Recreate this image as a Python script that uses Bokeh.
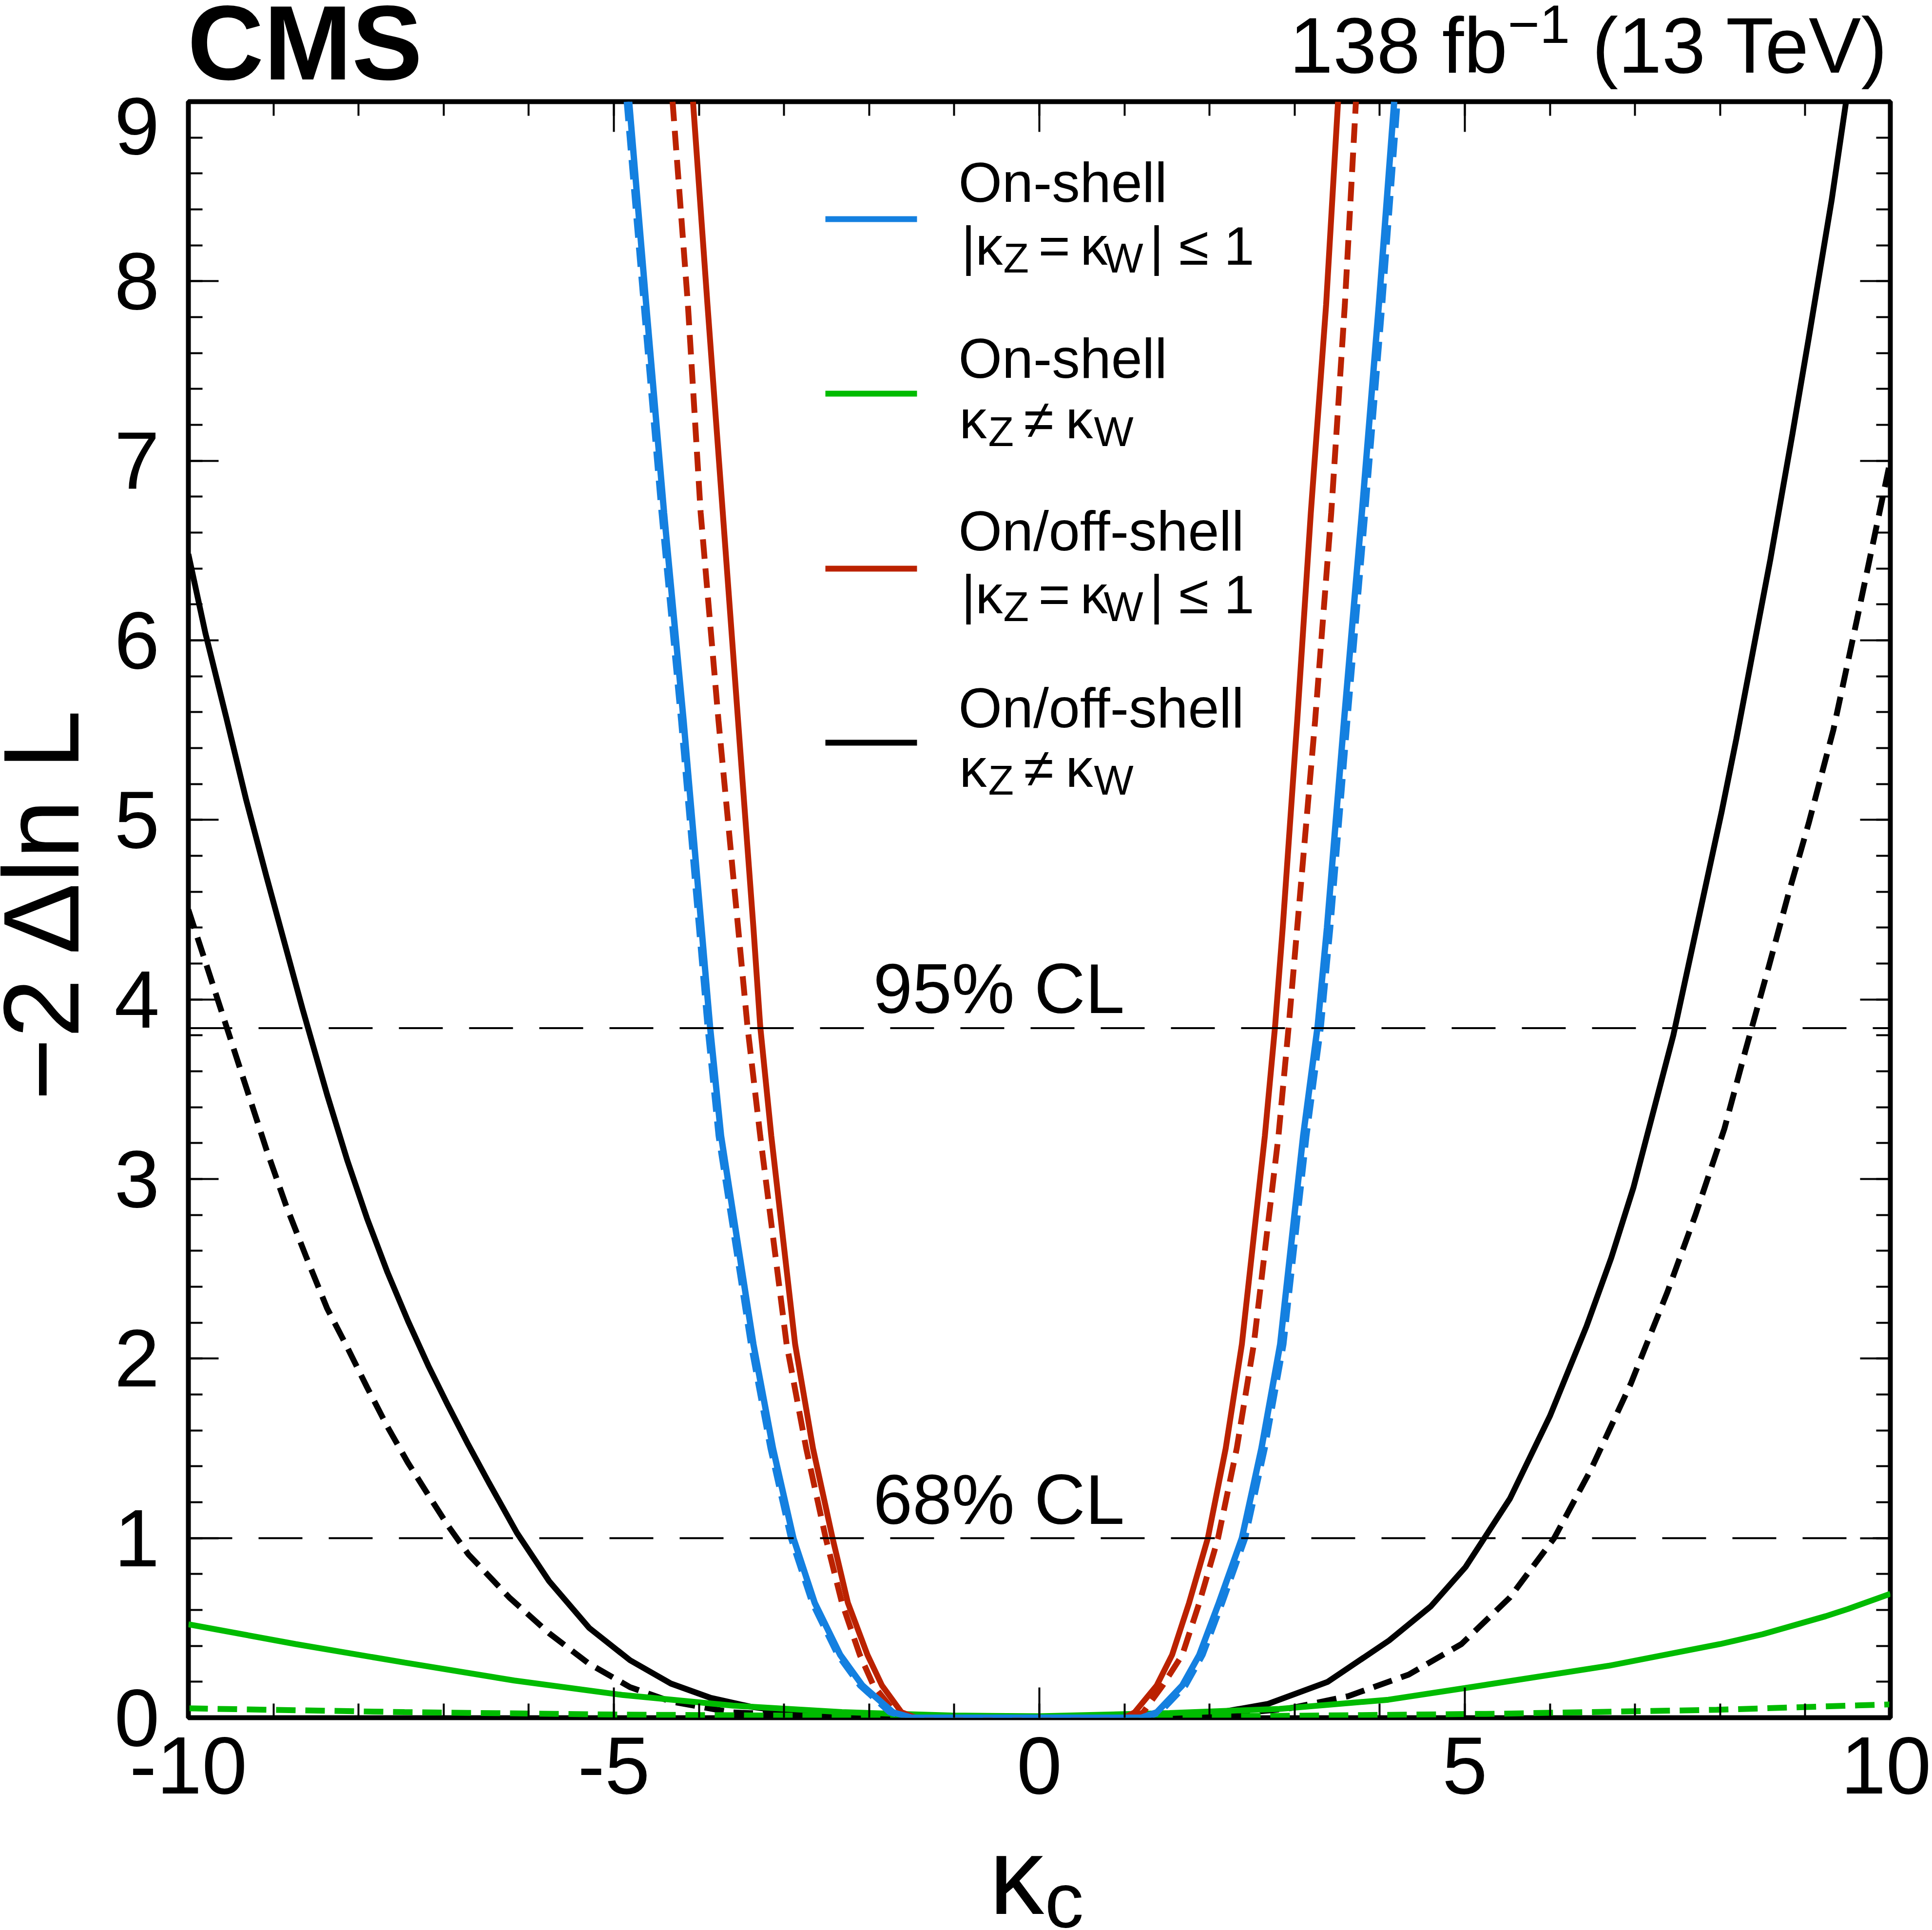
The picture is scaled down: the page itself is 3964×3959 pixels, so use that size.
import math
from bokeh.plotting import figure
from bokeh.layouts import column, row
from bokeh.models import Range1d, LinearAxis, SingleIntervalTicker, Label, Span
from bokeh.embed import file_html
from bokeh.resources import INLINE

# ---------------- data ----------------
steep_left_y = [9.00, 7.87, 6.71, 5.55, 4.40, 3.85, 3.24, 2.08, 1.50, 1.00, 0.64, 0.35, 0.18, 0.03, 0.0]
steep_right_y = [0.0, 0.03, 0.18, 0.35, 0.64, 1.00, 1.50, 2.08, 3.24, 3.85, 4.40, 5.55, 6.71, 7.87, 9.00]
flat_x = [-1.0, 0.0, 0.5]
flat_y = [0.0, 0.0, 0.0]

# On-shell |kZ = kW| <= 1 (blue)
onshell_eq_obs_left = [-4.82, -4.62, -4.41, -4.18, -3.97, -3.87, -3.74, -3.36, -3.13, -2.89, -2.64, -2.34, -2.08, -1.72, -1.50]
onshell_eq_obs_right = [1.20, 1.38, 1.68, 1.88, 2.11, 2.38, 2.61, 2.83, 3.10, 3.27, 3.38, 3.58, 3.79, 3.99, 4.17]
onshell_eq_exp_left = [-4.85, -4.65, -4.44, -4.21, -4.00, -3.90, -3.77, -3.39, -3.16, -2.92, -2.67, -2.37, -2.11, -1.76, -1.55]
onshell_eq_exp_right = [1.25, 1.42, 1.72, 1.92, 2.15, 2.42, 2.65, 2.87, 3.14, 3.31, 3.42, 3.62, 3.83, 4.03, 4.21]

# On/off-shell |kZ = kW| <= 1 (red)
onoff_eq_obs_left = [-4.07, -3.90, -3.72, -3.54, -3.36, -3.28, -3.15, -2.87, -2.66, -2.43, -2.25, -2.02, -1.85, -1.62, -1.45]
onoff_eq_obs_right = [1.00, 1.12, 1.38, 1.56, 1.76, 1.98, 2.19, 2.38, 2.65, 2.77, 2.86, 3.03, 3.19, 3.37, 3.51]
onoff_eq_exp_left = [-4.31, -4.13, -3.98, -3.77, -3.54, -3.43, -3.28, -2.97, -2.74, -2.51, -2.32, -2.11, -1.95, -1.70, -1.50]
onoff_eq_exp_right = [1.10, 1.22, 1.45, 1.68, 1.88, 2.10, 2.32, 2.52, 2.81, 2.93, 3.03, 3.24, 3.43, 3.59, 3.72]

# On/off-shell kZ != kW (black)
onoff_ne_obs_x = [-10.0, -9.80, -9.56, -9.32, -9.08, -8.85, -8.66, -8.37, -8.13, -7.90, -7.66, -7.42, -7.18,
                  -6.95, -6.71, -6.47, -6.14, -5.76, -5.29, -4.81, -4.33, -3.86, -3.38, -2.91, -2.0, -1.0,
                  0.0, 1.0, 2.0, 2.68, 3.39, 4.11, 4.60, 5.01, 5.53, 6.00, 6.43, 6.72, 6.98, 7.45, 7.71, 8.02,
                  8.19, 8.59, 8.85, 9.04, 9.31, 9.48]
onoff_ne_obs_y = [6.48, 6.04, 5.58, 5.11, 4.68, 4.28, 3.95, 3.47, 3.10, 2.78, 2.48, 2.21, 1.96,
                  1.74, 1.52, 1.31, 1.03, 0.76, 0.50, 0.32, 0.19, 0.11, 0.06, 0.03, 0.01, 0.0,
                  0.0, 0.0, 0.02, 0.076, 0.20, 0.43, 0.62, 0.84, 1.22, 1.68, 2.18, 2.56, 2.95, 3.80, 4.37, 5.05,
                  5.45, 6.45, 7.15, 7.68, 8.45, 9.00]
onoff_ne_exp_x = [-10.0, -9.80, -9.56, -9.32, -9.08, -8.85, -8.61, -8.37, -8.13, -7.90, -7.66, -7.42, -7.18,
                  -6.95, -6.71, -6.23, -5.76, -5.29, -4.81, -4.33, -3.62, -2.5, -1.0, 0.0, 1.0, 2.0,
                  2.92, 3.63, 4.34, 4.96, 5.53, 6.05, 6.48, 6.95, 7.38, 7.71, 8.05, 8.30, 8.57, 8.81,
                  9.04, 9.33, 9.61, 10.0]
onoff_ne_exp_y = [4.50, 4.21, 3.86, 3.51, 3.16, 2.85, 2.56, 2.28, 2.06, 1.84, 1.62, 1.42, 1.24,
                  1.07, 0.91, 0.67, 0.47, 0.30, 0.17, 0.09, 0.03, 0.005, 0.0, 0.0, 0.0, 0.01,
                  0.05, 0.12, 0.24, 0.41, 0.67, 1.00, 1.38, 1.86, 2.37, 2.80, 3.28, 3.72, 4.18, 4.60,
                  4.98, 5.50, 6.12, 7.00]

# On-shell kZ != kW (green)
onshell_ne_obs_x = [-10.0, -8.74, -7.46, -6.17, -4.89, -3.60, -2.32, -1.03, 0.0, 1.53, 2.82, 4.10, 5.0,
                    6.70, 8.00, 8.50, 9.24, 9.50, 10.0]
onshell_ne_obs_y = [0.52, 0.41, 0.307, 0.207, 0.126, 0.067, 0.031, 0.012, 0.008, 0.026, 0.049, 0.10, 0.165,
                    0.29, 0.41, 0.465, 0.565, 0.605, 0.69]
onshell_ne_exp_x = [-10.0, -7.46, -4.89, -2.32, 0.0, 2.82, 5.39, 7.96, 10.0]
onshell_ne_exp_y = [0.052, 0.031, 0.017, 0.010, 0.004, 0.010, 0.022, 0.044, 0.074]

cl_levels = [1.0, 3.84]
cl_names = ["68% CL", "95% CL"]

# ---------------- geometry (page pixels) ----------------
PW, PH = 3962, 3957
HEAD_H = 200          # header strip
YLAB_W = 210          # y-title strip
MAIN_BOTTOM = 3770    # where the x-title strip starts
FL, FR, FT, FB = 386, 3878, 208, 3523   # frame in page pixels
FONT = "Liberation Sans"
SHIFT = 0.31          # baseline correction (in em)

BLUE = "#1480e0"
RED = "#bb2200"
GREEN = "#00bb00"
BLACK = "#000000"


def X(px):
    return -10 + (px - FL) * 20.0 / (FR - FL)


def Y(py):
    return (FB - py) * 9.0 / (FB - FT)


MW = PW - YLAB_W
MH = MAIN_BOTTOM - HEAD_H
p = figure(width=MW, height=MH, x_range=Range1d(-10, 10), y_range=Range1d(0, 9),
           output_backend="svg", toolbar_location=None,
           min_border_left=FL - YLAB_W, min_border_right=MW - (FR - YLAB_W),
           min_border_top=FT - HEAD_H, min_border_bottom=MH - (FB - HEAD_H))
p.grid.visible = False
p.outline_line_color = "black"
p.outline_line_width = 10
p.background_fill_color = "white"
p.border_fill_color = "white"

p.add_layout(LinearAxis(), "above")
p.add_layout(LinearAxis(), "right")

for ax in p.below + p.above:
    ax.ticker = SingleIntervalTicker(interval=5, num_minor_ticks=5)
    ax.major_label_overrides = {-10: "-10", -5: "-5"}
for ax in p.left + p.right:
    ax.ticker = SingleIntervalTicker(interval=1, num_minor_ticks=5)
for ax in p.below + p.above + p.left + p.right:
    ax.axis_line_color = None
    ax.major_tick_in = 62
    ax.major_tick_out = 0
    ax.minor_tick_in = 29
    ax.minor_tick_out = 0
    ax.major_tick_line_width = 4
    ax.minor_tick_line_width = 4
    ax.major_tick_line_color = "black"
    ax.minor_tick_line_color = "black"
    ax.major_label_text_font = FONT
    ax.major_label_text_font_size = "167px"
    ax.major_label_text_color = "black"
for ax in p.above + p.right:
    ax.major_label_text_color = None
    ax.major_label_text_font_size = "0px"
    ax.major_label_standoff = 0
p.left[0].major_label_standoff = 59
p.below[0].major_label_standoff = 40

# CL lines
for lvl in cl_levels:
    p.add_layout(Span(location=lvl, dimension="width", line_color="black",
                      line_width=4, line_dash="90 54"))

LW = 12
DASH = "40 20"


def both(left, right, ly, ry):
    return left + flat_x + right, ly + flat_y + ry


p.line(onoff_ne_exp_x, onoff_ne_exp_y, line_color=BLACK, line_width=LW, line_dash=DASH)
p.line(onoff_ne_obs_x, onoff_ne_obs_y, line_color=BLACK, line_width=LW)
p.line(onshell_ne_exp_x, onshell_ne_exp_y, line_color=GREEN, line_width=LW, line_dash=DASH)
p.line(onshell_ne_obs_x, onshell_ne_obs_y, line_color=GREEN, line_width=LW)
xx, yy = both(onoff_eq_exp_left, onoff_eq_exp_right, steep_left_y, steep_right_y)
p.line(xx, yy, line_color=RED, line_width=LW, line_dash=DASH)
xx, yy = both(onoff_eq_obs_left, onoff_eq_obs_right, steep_left_y, steep_right_y)
p.line(xx, yy, line_color=RED, line_width=LW)
xx, yy = both(onshell_eq_exp_left, onshell_eq_exp_right, steep_left_y, steep_right_y)
p.line(xx, yy, line_color=BLUE, line_width=LW, line_dash=DASH)
xx, yy = both(onshell_eq_obs_left, onshell_eq_obs_right, steep_left_y, steep_right_y)
p.line(xx, yy, line_color=BLUE, line_width=13)


def lab(text, px, py, size, bold=False):
    """Text inside the main frame; px, py = page pixels of the glyph baseline start."""
    p.add_layout(Label(x=X(px), y=Y(py - SHIFT * size), text=text, text_font=FONT,
                       text_font_size=f"{size}px", text_color="black",
                       text_font_style="bold" if bold else "normal",
                       text_baseline="alphabetic", text_align="left"))


# legend
leg_colors = [BLUE, GREEN, RED, BLACK]
leg_y = [449, 807, 1166, 1523]
p.segment(x0=[X(1693)] * 4, x1=[X(1881)] * 4, y0=[Y(v) for v in leg_y], y1=[Y(v) for v in leg_y],
          line_color=leg_colors, line_width=12)

F1, F2, FS = 115, 112, 86
for head, b1, b2 in [("On-shell", 409, 539), ("On/off-shell", 1124, 1254)]:
    lab(head, 1966, b1, F1)
    lab("|κ", 1972, b2, F2)
    lab("Z", 2058, b2 + 16, FS)
    lab("=", 2130, b2, F2)
    lab("κ", 2216, b2, F2)
    lab("W", 2264, b2 + 16, FS)
    lab("| ≤ 1", 2358, b2, F2)
for head, b1, b2 in [("On-shell", 770, 895), ("On/off-shell", 1487, 1610)]:
    lab(head, 1966, b1, F1)
    lab("κ", 1968, b2, F2)
    lab("Z", 2027, b2 + 16, FS)
    lab("≠", 2100, b2, F2)
    lab("κ", 2186, b2, F2)
    lab("W", 2244, b2 + 16, FS)

lab(cl_names[1], 1791, 2072, 145)
lab(cl_names[0], 1791, 3120, 145)


# ---------------- strips for texts outside the frame ----------------
def strip(w, h):
    f = figure(width=w, height=h, x_range=Range1d(0, w), y_range=Range1d(0, h),
               output_backend="svg", toolbar_location=None, min_border=0,
               x_axis_location=None, y_axis_location=None)
    f.grid.visible = False
    f.outline_line_color = None
    f.background_fill_color = "white"
    f.border_fill_color = "white"
    return f


def slab(f, h, text, px, py, size, bold=False, angle=0.0, align="left"):
    """px, py = strip-local pixels of the anchor (y measured from the top)."""
    if angle:
        x, y = px, h - py
    else:
        x, y = px, h - (py - SHIFT * size)
    f.add_layout(Label(x=x, y=y, text=text, text_font=FONT, text_font_size=f"{size}px",
                       text_color="black", text_font_style="bold" if bold else "normal",
                       text_baseline="alphabetic", text_align=align, angle=angle))


head = strip(PW, HEAD_H)
slab(head, HEAD_H, "CMS", 384, 155, 217, bold=True)
slab(head, HEAD_H, "138 fb", 2645, 142, 161)
slab(head, HEAD_H, "−1", 3093, 84, 112)
slab(head, HEAD_H, "(13 TeV)", 3266, 142, 161)

ylab = strip(YLAB_W, MH)
slab(ylab, MH, "−2 Δln L", 84, 1769, 220, angle=math.pi / 2, align="center")

XH = PH - MAIN_BOTTOM
xlab = strip(PW, XH)
slab(xlab, XH, "κ", 2029, 3917 - MAIN_BOTTOM, 225)
slab(xlab, XH, "c", 2143, 3947 - MAIN_BOTTOM, 160)

layout = column(head, row(ylab, p, spacing=0), xlab, spacing=0)
open("out.html", "w").write(file_html(layout, INLINE))
